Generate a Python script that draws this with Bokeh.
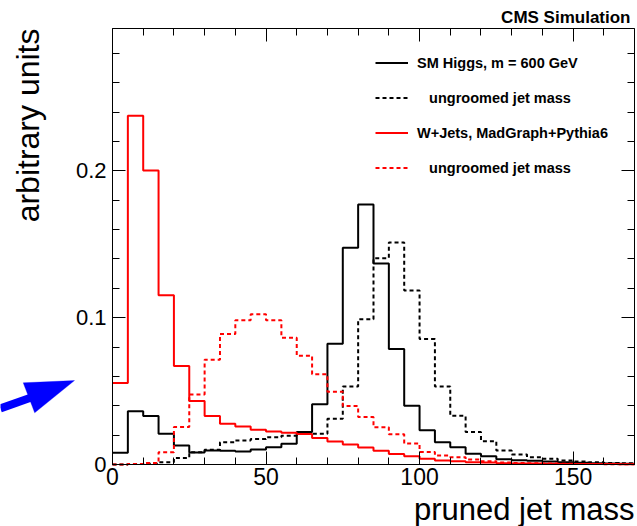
import numpy as np
from bokeh.plotting import figure
from bokeh.models import (LinearAxis, FixedTicker, CustomJSTickFormatter, Label, Arrow,
                          PolyAnnotation, Legend, LegendItem, Range1d)
from bokeh.embed import file_html
from bokeh.resources import INLINE

# ---- data (bins of 5 GeV from 0 to 170) ----
bin_edges = list(range(0, 175, 5))
higgs_pruned = [0.0080, 0.0362, 0.0330, 0.0209, 0.0130, 0.0082, 0.0095, 0.0093, 0.0089, 0.0102,
                0.0118, 0.0141, 0.0221, 0.0411, 0.0823, 0.1476, 0.1771, 0.1369, 0.0787, 0.0400,
                0.0234, 0.0152, 0.0118, 0.0073, 0.0057, 0.0036, 0.0029, 0.0025, 0.0020, 0.0015,
                0.0012, 0.0009, 0.0007, 0.0005]
higgs_ungroomed = [0.0000, 0.0003, 0.0005, 0.0015, 0.0045, 0.0084, 0.0100, 0.0152, 0.0164, 0.0173,
                   0.0186, 0.0196, 0.0209, 0.0209, 0.0311, 0.0532, 0.0989, 0.1405, 0.1512, 0.1185,
                   0.0855, 0.0532, 0.0332, 0.0221, 0.0159, 0.0095, 0.0068, 0.0050, 0.0039, 0.0027,
                   0.0020, 0.0016, 0.0011, 0.0009]
wjets_pruned = [0.0555, 0.2376, 0.2003, 0.1153, 0.0671, 0.0432, 0.0330, 0.0277, 0.0259, 0.0236,
                0.0225, 0.0216, 0.0207, 0.0180, 0.0157, 0.0136, 0.0115, 0.0094, 0.0072, 0.0057,
                0.0039, 0.0027, 0.0023, 0.0016, 0.0014, 0.0009, 0.0007, 0.0006, 0.0005, 0.0004,
                0.0004, 0.0003, 0.0003, 0.0002]
wjets_ungroomed = [0.0000, 0.0004, 0.0010, 0.0084, 0.0255, 0.0477, 0.0714, 0.0889, 0.0982, 0.1023,
                   0.0982, 0.0864, 0.0741, 0.0614, 0.0496, 0.0398, 0.0323, 0.0254, 0.0206, 0.0143,
                   0.0086, 0.0061, 0.0050, 0.0034, 0.0023, 0.0014, 0.0010, 0.0008, 0.0006, 0.0005,
                   0.0004, 0.0003, 0.0002, 0.0002]
x_major = [0, 50, 100, 150]
x_minor = list(range(0, 180, 10))
y_major = [0, 0.1, 0.2]
y_minor = [round(0.02 * i, 2) for i in range(15)]
X_LO, X_HI = 0, 170
Y_LO, Y_HI = 0, 0.297

FONT = "Liberation Sans"

# The frame covers the whole canvas; the visible plot box is drawn by axes
# fixed at the data limits, so that texts and the arrow outside the box are not clipped.
p = figure(width=637, height=526, x_range=Range1d(-36.475, 170.977),
           y_range=Range1d(-0.04223, 0.31607),
           output_backend="svg", toolbar_location=None,
           min_border_left=0, min_border_right=0, min_border_top=0, min_border_bottom=0)
p.xgrid.visible = False
p.ygrid.visible = False
p.outline_line_color = None
p.background_fill_color = "white"
p.border_fill_color = "white"

fmt = CustomJSTickFormatter(code="return tick.toString();")
blank = CustomJSTickFormatter(code="return '';")


def style_axis(ax, ticks, minor, bounds, loc, show_labels, size="23px", standoff=4):
    ax.ticker = FixedTicker(ticks=ticks, minor_ticks=minor)
    ax.bounds = bounds
    ax.fixed_location = loc
    ax.axis_line_color = "black"
    ax.axis_line_width = 1
    ax.major_tick_in = 13
    ax.major_tick_out = 0
    ax.minor_tick_in = 7
    ax.minor_tick_out = 0
    ax.major_tick_line_color = "black"
    ax.minor_tick_line_color = "black"
    if show_labels:
        ax.formatter = fmt
        ax.major_label_text_font = FONT
        ax.major_label_text_font_size = size
        ax.major_label_text_color = "black"
        ax.major_label_standoff = standoff
    else:
        ax.formatter = blank
        ax.major_label_standoff = 0


style_axis(p.xaxis[0], x_major, x_minor, (X_LO, X_HI), Y_LO, True, "23px", 3)
style_axis(p.yaxis[0], y_major, y_minor, (Y_LO, Y_HI), X_LO, True, "22px", 6)
top = LinearAxis()
style_axis(top, x_major, x_minor, (X_LO, X_HI), Y_HI, False)
p.add_layout(top, "above")
right = LinearAxis()
style_axis(right, y_major, y_minor, (Y_LO, Y_HI), X_HI, False)
p.add_layout(right, "right")


def outline(vals):
    e = np.array(bin_edges, dtype=float)
    v = np.array(vals, dtype=float)
    xs = np.repeat(e, 2)[1:-1]
    ys = np.repeat(v, 2)
    return xs, ys


xs, ys = outline(higgs_pruned)
r_hp = p.line(xs, ys, line_color="black", line_width=2)
xs, ys = outline(higgs_ungroomed)
r_hu = p.line(xs, ys, line_color="black", line_width=2, line_dash="4 3")
xs, ys = outline(wjets_pruned)
r_wp = p.line(xs, ys, line_color="#ff0000", line_width=2)
xs, ys = outline(wjets_ungroomed)
r_wu = p.line(xs, ys, line_color="#ff0000", line_width=2, line_dash="4 3")

nb = "\u00a0\u00a0\u00a0"
legend = Legend(items=[
    LegendItem(label="SM Higgs, m = 600 GeV", renderers=[r_hp]),
    LegendItem(label=nb + "ungroomed jet mass", renderers=[r_hu]),
    LegendItem(label="W+Jets, MadGraph+Pythia6", renderers=[r_wp]),
    LegendItem(label=nb + "ungroomed jet mass", renderers=[r_wu]),
], location=(375, 348), label_text_font=FONT, label_text_font_size="14.5px",
    label_text_font_style="bold", label_text_color="black",
    glyph_width=33, glyph_height=21, label_height=21,
    spacing=14, label_standoff=9, padding=0, margin=0, border_line_color=None,
    background_fill_alpha=0)
p.add_layout(legend)

p.add_layout(Label(x=-27.4, y=Y_HI, text="arbitrary units", angle=np.pi / 2,
                   text_align="right", text_baseline="middle", text_font=FONT,
                   text_font_size="32px", text_color="black"))
p.add_layout(Label(x=X_HI, y=-0.0305, text="pruned jet mass", text_align="right",
                   text_baseline="alphabetic", text_font=FONT, text_font_size="31px",
                   text_color="black"))
p.add_layout(Label(x=168.7, y=0.3045, text="CMS Simulation", text_align="right",
                   text_baseline="alphabetic", text_font=FONT, text_font_size="17px",
                   text_font_style="bold", text_color="black"))

# arrow: shaft + head
p.add_layout(Arrow(end=None, x_start=-36.5, y_start=0.0382, x_end=-26.0, y_end=0.0460,
                   line_color="#0000ff", line_width=8))
p.add_layout(PolyAnnotation(xs=[-12.38, -29.08, -25.34], ys=[0.0572, 0.05565, 0.03522],
                            fill_color="#0000ff", fill_alpha=1.0, line_color="#0000ff",
                            line_width=1))

open("out.html", "w").write(file_html(p, INLINE))
